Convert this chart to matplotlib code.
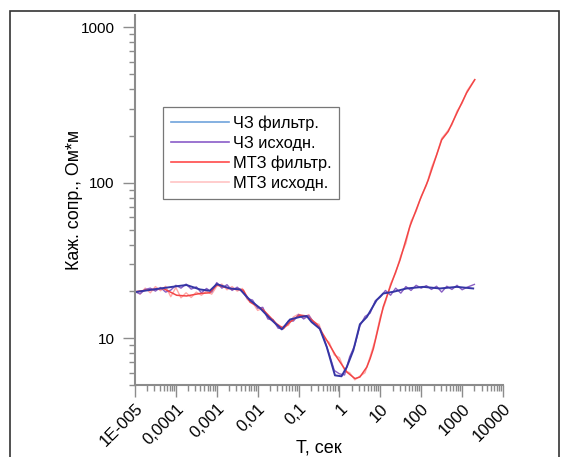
import matplotlib.pyplot as plt
from matplotlib.lines import Line2D
from matplotlib.patches import Rectangle
from matplotlib.ticker import FixedLocator, LogLocator, NullFormatter

plt.rcParams['font.family'] = ['Liberation Sans', 'DejaVu Sans']

# lg(T) для сырых кривых (шаг 1/8 декады)
lg_raw = [-5.0, -4.875, -4.75, -4.625, -4.5, -4.375, -4.25, -4.125,
          -4.0, -3.875, -3.75, -3.625, -3.5, -3.375, -3.25, -3.125,
          -3.0, -2.875, -2.75, -2.625, -2.5, -2.375, -2.25, -2.125,
          -2.0, -1.875, -1.75, -1.625, -1.5, -1.375, -1.25, -1.125,
          -1.0, -0.875, -0.75, -0.625, -0.5, -0.375, -0.25, -0.125,
          0.0, 0.125, 0.25, 0.375, 0.5, 0.625, 0.75, 0.875,
          1.0, 1.125, 1.25, 1.375, 1.5, 1.625, 1.75, 1.875,
          2.0, 2.125, 2.25, 2.375, 2.5, 2.625, 2.75, 2.875,
          3.0, 3.125, 3.3]

# ЧЗ исходн.
rho_cz_raw = [19.9, 19.3, 20.6, 21.0, 20.1, 21.2, 19.8, 20.4,
              21.9, 21.0, 22.3, 20.7, 21.4, 19.6, 20.9, 19.8,
              22.8, 21.0, 22.1, 20.3, 21.3, 20.0, 18.0, 17.6,
              15.6, 15.8, 13.3, 13.2, 11.6, 11.5, 12.9, 12.9,
              14.2, 13.3, 14.0, 12.6, 11.9, 9.9, 7.9, 6.2,
              5.9, 5.8, 7.6, 9.0, 12.0, 13.8, 14.5, 17.4,
              18.4, 20.3, 18.9, 21.0, 19.5, 21.5, 20.3, 21.9,
              21.0, 21.8, 20.6, 21.6, 19.8, 21.6, 20.6, 21.9,
              20.5, 21.3, 22.2]

# МТЗ исходн.
rho_mt_raw = [20.2, 19.2, 21.0, 19.6, 21.5, 20.2, 21.6, 18.5,
              21.2, 18.2, 19.6, 18.3, 19.8, 18.9, 20.1, 19.2,
              21.6, 22.3, 20.5, 21.5, 20.1, 20.9, 17.7, 17.0,
              15.1, 15.6, 13.4, 12.9, 11.8, 11.9, 12.1, 13.7,
              14.3, 13.6, 14.2, 12.5, 12.3, 10.0, 9.4, 7.8,
              7.5, 6.2, 6.0, 5.4, 5.7, 6.0, 7.6, 9.8,
              13.8, 17.1, 22.4, 26.3, 34.0, 40.8, 56.5, 65.5,
              82, 96, 125, 151, 193, 212, 236, 289,
              325, 392, 458]

# ЧЗ фильтр.
lg_cz_f = [-5.0, -4.55, -3.98, -3.74, -3.41, -3.17, -3.0, -2.68,
           -2.43, -2.19, -1.94, -1.70, -1.41, -1.21, -0.97, -0.80,
           -0.68, -0.48, -0.31, -0.11, 0.05, 0.18, 0.34, 0.50,
           0.67, 0.91, 1.07, 1.32, 1.64, 2.05, 2.46, 2.87, 3.27]
rho_cz_f = [19.8, 20.6, 21.6, 22.0, 20.6, 20.2, 22.3, 20.9,
            20.6, 17.6, 15.6, 13.4, 11.4, 13.2, 13.7, 13.9,
            12.7, 11.5, 8.78, 5.77, 5.69, 6.53, 8.37, 12.3,
            13.7, 17.6, 19.4, 19.9, 20.9, 21.4, 20.9, 21.4, 20.9]

# МТЗ фильтр.
lg_mt_f = [-5.0, -4.71, -4.31, -3.98, -3.74, -3.41, -3.17, -3.0,
           -2.68, -2.35, -2.19, -1.86, -1.54, -1.37, -1.21, -0.97,
           -0.80, -0.56, -0.31, -0.07, 0.18, 0.38, 0.50, 0.67,
           0.75, 0.83, 1.07, 1.24, 1.48, 1.72, 1.97, 2.17,
           2.50, 2.66, 2.91, 3.11, 3.31]
rho_mt_f = [19.9, 20.4, 20.9, 18.9, 18.7, 19.4, 19.6, 22.0,
            20.9, 20.4, 17.1, 15.2, 12.4, 11.55, 12.7, 14.1,
            13.9, 12.4, 9.7, 7.58, 6.06, 5.50, 5.63, 6.53,
            7.39, 8.58, 15.9, 21.4, 31.8, 52.2, 77.7, 104,
            189, 214, 295, 379, 461]

x_ticks = [1e-5, 1e-4, 1e-3, 1e-2, 1e-1, 1, 10, 100, 1000, 10000]
x_labels = ['1E-005', '0,0001', '0,001', '0,01', '0,1', '1', '10', '100', '1000', '10000']
y_ticks = [10, 100, 1000]
y_labels = ['10', '100', '1000']

labels = ['ЧЗ фильтр.', 'ЧЗ исходн.', 'МТЗ фильтр.', 'МТЗ исходн.']
legend_colors = ['#6fa3dc', '#8a5cc8', '#ff4a4a', '#ffc4c4']

fig = plt.figure(figsize=(5.7, 4.57), dpi=100)
ax = fig.add_axes([0.2368, 0.1575, 0.6457, 0.8096])

ax.plot([10 ** v for v in lg_raw], rho_mt_raw, color='#ffa8a8', lw=1.0)
ax.plot([10 ** v for v in lg_raw], rho_cz_raw, color='#8a60c4', lw=1.0)
ax.plot([10 ** v for v in lg_mt_f], rho_mt_f, color='#f24545', lw=1.1)
ax.plot([10 ** v for v in lg_cz_f], rho_cz_f, color='#3535a5', lw=1.4)

ax.set_xscale('log')
ax.set_yscale('log')
ax.set_xlim(1e-5, 1e4)
ax.set_ylim(5, 1200)

ax.xaxis.set_major_locator(FixedLocator(x_ticks))
ax.set_xticklabels(x_labels, rotation=45, ha='right', rotation_mode='anchor', fontsize=12)
ax.xaxis.set_minor_locator(LogLocator(base=10, subs=range(2, 10), numticks=50))
ax.xaxis.set_minor_formatter(NullFormatter())
ax.yaxis.set_major_locator(FixedLocator(y_ticks))
ax.set_yticklabels(y_labels, fontsize=11)
ax.yaxis.set_minor_locator(LogLocator(base=10, subs=range(2, 10), numticks=50))
ax.yaxis.set_minor_formatter(NullFormatter())

for s in ['top', 'right']:
    ax.spines[s].set_visible(False)
for s in ['left', 'bottom']:
    ax.spines[s].set_color('#8c8c8c')
    ax.spines[s].set_linewidth(1.5)
ax.tick_params(which='major', direction='out', length=8.5, width=1, color='#8c8c8c')
ax.tick_params(axis='y', which='major', pad=6)
ax.tick_params(axis='x', which='major', pad=3)
ax.tick_params(which='minor', direction='out', length=4, width=1, color='#8c8c8c')

ax.set_xlabel('T, сек', fontsize=13)
ax.set_ylabel('Каж. сопр., Ом*м', fontsize=12.8)
ax.xaxis.set_label_coords(0.5, -0.148)
ax.yaxis.set_label_coords(-0.14, 0.5)

handles = [Line2D([], [], color=c, lw=1.2) for c in legend_colors]
leg = fig.legend(handles, labels, loc='upper left', bbox_to_anchor=(163 / 570, 1 - 107 / 457),
                 fontsize=11.8, frameon=True, fancybox=False, handlelength=3.5,
                 handletextpad=0.25, labelspacing=0.3, borderpad=0.5, borderaxespad=0)
leg.get_frame().set_edgecolor('#555555')
leg.get_frame().set_linewidth(0.9)

# внешняя рамка
fig.patches.append(Rectangle((10 / 570, -0.1), 549 / 570, 1.1 - 11 / 457,
                             transform=fig.transFigure, fill=False,
                             edgecolor='#333333', lw=1.2))

fig.savefig('out.png', dpi=100)
